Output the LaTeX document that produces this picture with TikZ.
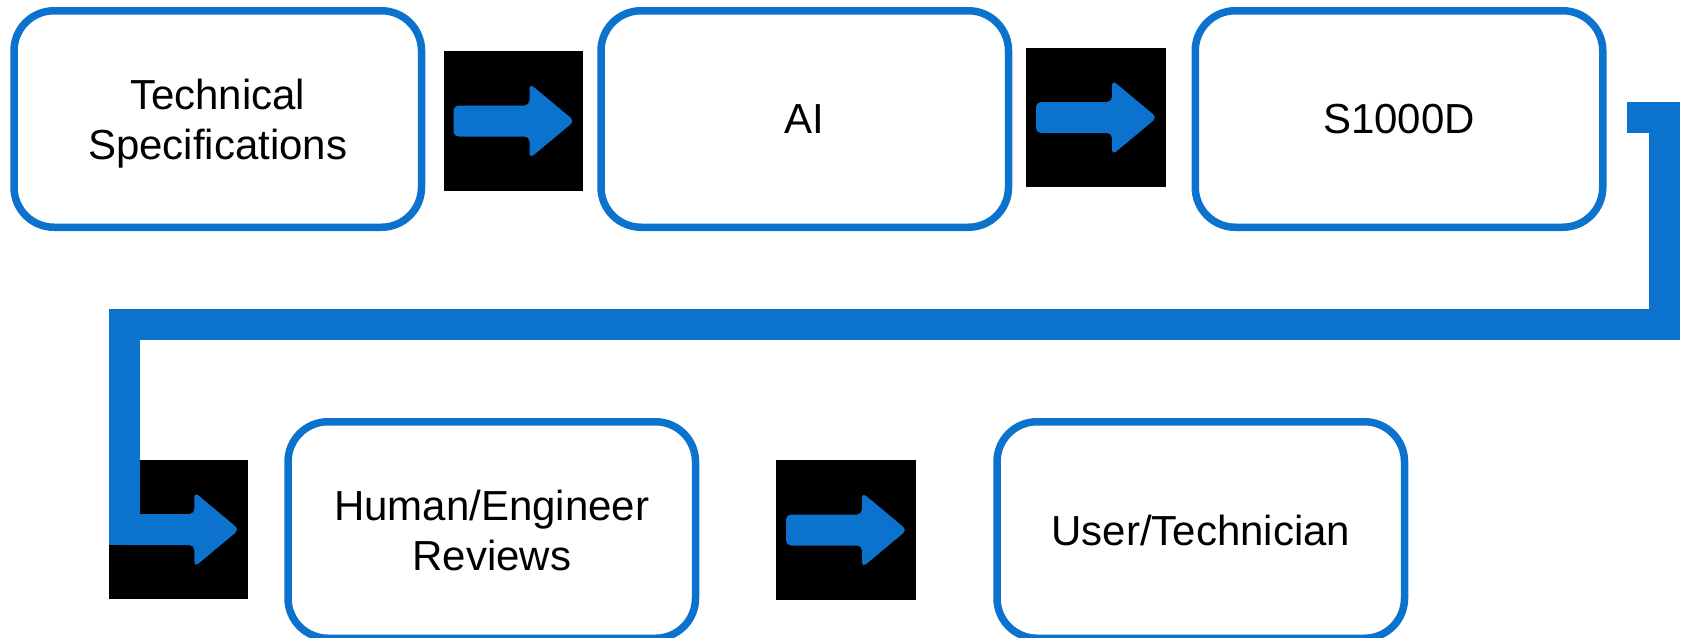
\documentclass[tikz,border=0pt]{standalone}
\usepackage{fontspec}
\setmainfont{Liberation Sans}
\definecolor{flowblue}{RGB}{11,115,206}
\tikzset{
  procbox/.style={draw=flowblue, line width=3.75pt, rounded corners=20pt, fill=white,
    minimum width=203.75pt, minimum height=108.25pt, inner sep=0pt, align=center,
    font=\fontsize{21}{25}\selectfont},
  iconbg/.style={fill=black, draw=none, inner sep=0pt},
  flowline/.style={draw=flowblue, line width=15.5pt, line join=miter, line cap=butt},
  arrowicon/.pic={\fill[flowblue, rounded corners=2.5pt] (-60,-15.5) -- (16,-15.5) -- (16,-37.5) -- (61,0) -- (16,37.5) -- (16,15.5) -- (-60,15.5) -- cycle;}
}
\begin{document}
\begin{tikzpicture}[x=0.5pt,y=-0.5pt]
\useasboundingbox (0,0) rectangle (1685,637);
% boxes
\node[procbox, text depth=0pt] (spec) at (217.75,119) {Technical\\Specifications};
\node[procbox] (ai) at (804.75,119) {AI};
\node[procbox] (s1000d) at (1399,119) {S1000D};
\node[procbox, text depth=0pt] (review) at (491.75,530) {Human/Engineer\\Reviews};
\node[procbox] (user) at (1200.75,530) {User/Technician};
% icon backgrounds
\node[iconbg, minimum width=69.5pt, minimum height=70pt] (sq1) at (513.5,121) {};
\node[iconbg, minimum width=70pt, minimum height=69.5pt] (sq2) at (1096,117.5) {};
\node[iconbg, minimum width=69.7pt, minimum height=69.5pt] (sq3) at (178.3,529.5) {};
\node[iconbg, minimum width=70pt, minimum height=70pt] (sq4) at (846,530) {};
% long connector
\coordinate (c0) at (1627,117);
\coordinate (c1) at (1664.5,117);
\coordinate (c2) at (1664.5,324.5);
\coordinate (c3) at (124.4,324.5);
\draw[flowline] (c0) -- (c1) -- (c2) -- (c3) |- (sq3.center);
% arrow icons
\pic at (sq1.center) {arrowicon};
\pic at (sq2.center) {arrowicon};
\pic at (sq3.center) {arrowicon};
\pic at (sq4.center) {arrowicon};
\end{tikzpicture}
\end{document}
